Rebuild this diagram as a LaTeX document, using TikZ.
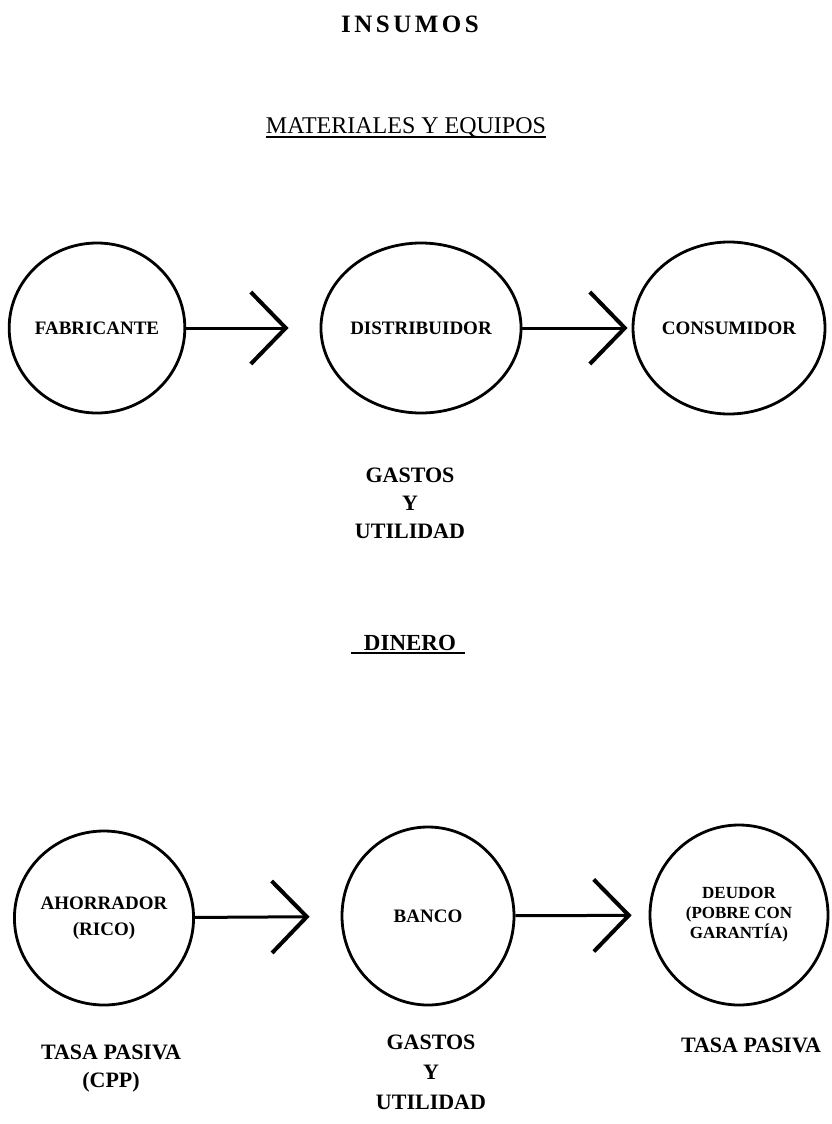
\documentclass[tikz,border=0pt]{standalone}
\usepackage{fontspec}
\setmainfont{Liberation Serif}
\usetikzlibrary{arrows.meta,shapes.geometric}
\tikzset{actor/.style={ellipse,draw,line width=2.8pt,inner sep=0pt,minimum width=172pt,
           minimum height=170pt,align=center,font=\fontsize{19}{22}\selectfont\bfseries},
         flow/.style={line width=3pt,-{Straight Barb[length=35pt,width=72pt,line width=4pt]}},
         note/.style={align=center,font=\fontsize{22}{28}\selectfont\bfseries},
         uline/.style={line width=2pt}}

\begin{document}
\begin{tikzpicture}[x=1pt,y=-1pt]
  \useasboundingbox (0,0) rectangle (831,1124);
  \node[font=\fontsize{25}{28}\selectfont\bfseries\addfontfeature{LetterSpace=14}] (insumos)
    at (410,24) {INSUMOS};
  \node[inner sep=0pt,anchor=base,font=\fontsize{24}{28}\selectfont] (materiales)
    at (406,133) {MATERIALES Y EQUIPOS};
  \draw[uline] ([yshift=-4pt]materiales.base west) -- ([yshift=-4pt]materiales.base east);

  \node[actor] (fabricante) at (97,328) {FABRICANTE};
  \node[actor] (distribuidor) at (421,328) {DISTRIBUIDOR};
  \node[actor,minimum width=192pt,minimum height=172pt] (consumidor) at (729,328) {CONSUMIDOR};
  \draw[flow,shorten >=31pt] (fabricante) -- (distribuidor);
  \draw[flow,shorten >=4pt] (distribuidor) -- (consumidor);
  \node[note] (gastosA) at (410,503) {GASTOS\\Y\\UTILIDAD};

  \node[inner sep=0pt,anchor=base,font=\fontsize{23}{26}\selectfont\bfseries] (dinero)
    at (410,650) {DINERO};
  \draw[uline] ([xshift=-13pt,yshift=-3pt]dinero.base west)
    -- ([xshift=9pt,yshift=-3pt]dinero.base east);

  \node[actor,minimum width=174pt,minimum height=174pt,font=\fontsize{19}{26}\selectfont\bfseries]
    (ahorrador) at (104,918) {AHORRADOR\\(RICO)};
  \node[actor,minimum height=178pt] (banco) at (428,916) {BANCO};
  \node[actor,minimum width=178pt,minimum height=180pt,font=\fontsize{17}{20}\selectfont\bfseries]
    (deudor) at (739,915) {DEUDOR\\(POBRE CON\\GARANTÍA)};
  \draw[flow,shorten >=31pt] (ahorrador) -- (banco);
  \draw[flow,shorten >=17pt] (banco) -- (deudor);
  \node[note] (tasaA) at (111,1069) {TASA PASIVA\\(CPP)};
  \node[note,font=\fontsize{22}{30}\selectfont\bfseries] (gastosB) at (431,1072) {GASTOS\\Y\\UTILIDAD};
  \node[note] (tasaB) at (751,1045) {TASA PASIVA};
\end{tikzpicture}
\end{document}
